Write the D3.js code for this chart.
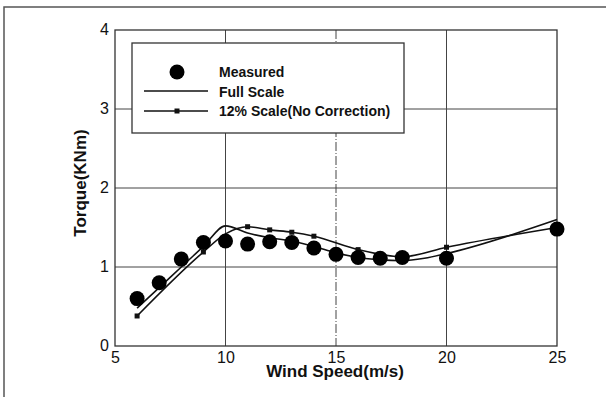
<!DOCTYPE html>
<html>
<head>
<meta charset="utf-8">
<script src="https://cdn.jsdelivr.net/npm/d3@7"></script>
<style>
  html, body { margin: 0; padding: 0; background: #fff; }
  svg { display: block; font-family: "Liberation Sans", Arial, sans-serif; }
</style>
</head>
<body>
<div id="chart"></div>
<script>
// wind speed (m/s) and torque (KNm)
const measuredX = [6, 7, 8, 9, 10, 11, 12, 13, 14, 15, 16, 17, 18, 20, 25];
const measuredY = [0.60, 0.80, 1.10, 1.31, 1.33, 1.29, 1.32, 1.31, 1.24, 1.16, 1.12, 1.11, 1.12, 1.11, 1.48];

const fullX = [6, 7, 8, 9, 10, 11, 12, 13, 14, 15, 16, 17, 18, 19, 20, 25];
const fullY = [0.48, 0.74, 1.00, 1.26, 1.52, 1.43, 1.37, 1.33, 1.26, 1.18, 1.12, 1.09, 1.08, 1.11, 1.17, 1.60];

const scaleX = [6, 9, 10, 11, 12, 13, 14, 16, 18, 20, 25];
const scaleY = [0.38, 1.19, 1.42, 1.51, 1.47, 1.44, 1.39, 1.22, 1.13, 1.25, 1.50];
const scaleMarkers = [6, 9, 11, 12, 13, 14, 16, 18, 20, 25];

const xTicks = [5, 10, 15, 20, 25];
const yTicks = [0, 1, 2, 3, 4];
const legendLabels = ['Measured', 'Full Scale', '12% Scale(No Correction)'];

const width = 606;
const height = 397;
const margin = { top: 30, right: 49, bottom: 51, left: 115 };
const innerWidth = width - margin.left - margin.right;
const innerHeight = height - margin.top - margin.bottom;

const svg = d3.select('#chart')
  .append('svg')
  .attr('width', width)
  .attr('height', height);

// outer frame (only top/left edges fall inside the picture)
svg.append('path')
  .attr('d', `M4,${height} L4,7 L${width},7`)
  .attr('fill', 'none')
  .attr('stroke', '#555')
  .attr('stroke-width', 1.5);

const g = svg.append('g')
  .attr('transform', `translate(${margin.left},${margin.top})`);

const x = d3.scaleLinear().domain([5, 25]).range([0, innerWidth]);
const y = d3.scaleLinear().domain([0, 4]).range([innerHeight, 0]);

// grid
g.selectAll('.vgrid')
  .data(xTicks.slice(1, -1))
  .enter()
  .append('line')
  .attr('x1', d => x(d))
  .attr('x2', d => x(d))
  .attr('y1', 0)
  .attr('y2', innerHeight)
  .attr('stroke', '#444')
  .attr('stroke-width', 1)
  .attr('stroke-dasharray', d => d === 15 ? '9,2,1,2' : null);

g.selectAll('.hgrid')
  .data(yTicks.slice(1, -1))
  .enter()
  .append('line')
  .attr('x1', 0)
  .attr('x2', innerWidth)
  .attr('y1', d => y(d))
  .attr('y2', d => y(d))
  .attr('stroke', '#444')
  .attr('stroke-width', 1);

// axes
const fmt = d3.format('d');
const xAxis = g.append('g')
  .attr('transform', `translate(0,${innerHeight})`)
  .call(d3.axisBottom(x).tickValues(xTicks).tickFormat(fmt).tickSize(0).tickPadding(6));
const yAxis = g.append('g')
  .call(d3.axisLeft(y).tickValues(yTicks).tickFormat(fmt).tickSize(0).tickPadding(6));
[xAxis, yAxis].forEach(a => {
  a.select('.domain').remove();
  a.selectAll('text')
    .attr('fill', '#111')
    .style('font-size', '16px')
    .style('font-family', '"Liberation Sans", Arial, sans-serif');
});
yAxis.selectAll('text').attr('dy', '0.3em');

g.append('rect')
  .attr('width', innerWidth)
  .attr('height', innerHeight)
  .attr('fill', 'none')
  .attr('stroke', '#333')
  .attr('stroke-width', 1.3);

// axis titles
svg.append('text')
  .attr('x', 335)
  .attr('y', 377)
  .attr('text-anchor', 'middle')
  .style('font-size', '17px')
  .style('font-weight', 'bold')
  .attr('fill', '#111')
  .text('Wind Speed(m/s)');

svg.append('text')
  .attr('transform', 'translate(86,183) rotate(-90)')
  .attr('text-anchor', 'middle')
  .style('font-size', '17px')
  .style('font-weight', 'bold')
  .attr('fill', '#111')
  .text('Torque(KNm)');

// lines
const line = d3.line()
  .x(d => x(d[0]))
  .y(d => y(d[1]))
  .curve(d3.curveMonotoneX);

g.append('path')
  .datum(fullX.map((v, i) => [v, fullY[i]]))
  .attr('d', line)
  .attr('fill', 'none')
  .attr('stroke', '#111')
  .attr('stroke-width', 1.6);

g.append('path')
  .datum(scaleX.map((v, i) => [v, scaleY[i]]))
  .attr('d', line)
  .attr('fill', 'none')
  .attr('stroke', '#111')
  .attr('stroke-width', 1.6);

g.selectAll('.sq')
  .data(scaleMarkers.map(v => [v, scaleY[scaleX.indexOf(v)]]))
  .enter()
  .append('rect')
  .attr('x', d => x(d[0]) - 2.5)
  .attr('y', d => y(d[1]) - 2.5)
  .attr('width', 5)
  .attr('height', 5)
  .attr('fill', '#111');

g.selectAll('.pt')
  .data(measuredX.map((v, i) => [v, measuredY[i]]))
  .enter()
  .append('circle')
  .attr('cx', d => x(d[0]))
  .attr('cy', d => y(d[1]))
  .attr('r', 7.5)
  .attr('fill', '#000');

// legend
const legend = svg.append('g');
legend.append('rect')
  .attr('x', 132)
  .attr('y', 43)
  .attr('width', 272)
  .attr('height', 90)
  .attr('fill', '#fff')
  .attr('stroke', '#333')
  .attr('stroke-width', 1.3);

legend.append('circle')
  .attr('cx', 177)
  .attr('cy', 72)
  .attr('r', 7.5)
  .attr('fill', '#000');

[91, 111].forEach(ly => {
  legend.append('line')
    .attr('x1', 144)
    .attr('x2', 208)
    .attr('y1', ly)
    .attr('y2', ly)
    .attr('stroke', '#111')
    .attr('stroke-width', 1.6);
});
legend.append('rect')
  .attr('x', 174.5)
  .attr('y', 108.5)
  .attr('width', 5)
  .attr('height', 5)
  .attr('fill', '#111');

legend.selectAll('.lbl')
  .data(legendLabels)
  .enter()
  .append('text')
  .attr('x', 219)
  .attr('y', (d, i) => 77 + i * 19.5)
  .style('font-size', '14px')
  .style('font-weight', 'bold')
  .attr('fill', '#111')
  .text(d => d);
</script>
</body>
</html>
